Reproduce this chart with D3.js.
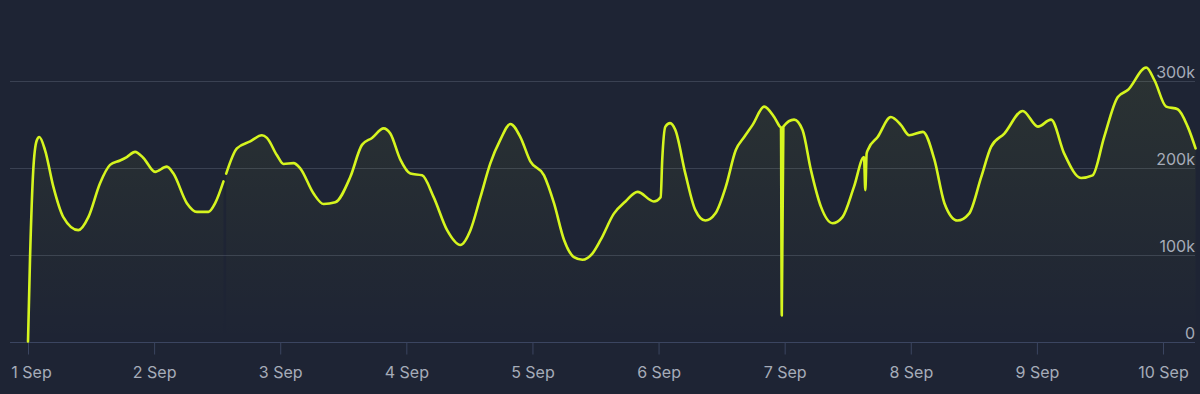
<html>
<head>
<meta charset="utf-8">
<script src="https://d3js.org/d3.v7.min.js"></script>
<style>
  body { margin: 0; background: #1e2434; }
  svg { display: block; }
</style>
</head>
<body>
<svg width="1200" height="394"></svg>
<script>
// hours since 1 Sep 00:00, value in thousands (null = gap in the series)
var hours = [0, 0.38, 1.0, 1.66, 2.15, 3.24, 4.82, 6.72, 9.58, 11.49, 13.71, 15.62, 17.52, 18.8, 20.38, 21.96,
  24.19, 26.42, 27.68, 30.23, 32.14, 34.35, 35.62, 37.2, 37.45, 37.72, 39.76, 42.29, 44.52, 45.47, 47.38,
  48.63, 50.54, 51.81, 54.35, 56.25, 58.48, 61.33, 63.56, 65.47, 67.68, 68.95, 70.86, 72.76, 75.0, 77.2,
  79.76, 82.29, 84.2, 86.1, 88.0, 89.9, 91.8, 93.7, 95.6, 98.2, 100.1, 102.0, 103.9, 105.5, 107.4, 109.0,
  111.5, 113.7, 116.0, 119.1, 120.4, 120.7, 121.3, 122.2, 123.2, 125.1, 127.0, 128.9, 130.8, 132.8, 134.7,
  136.3, 137.9, 140.1, 142.0, 143.1, 143.3, 143.45, 143.75, 145.8, 147.4, 149.0, 150.9, 153.1, 155.0,
  157.2, 159.1, 159.35, 159.6, 159.9, 161.7, 164.2, 166.1, 167.7, 170.3, 172.5, 174.4, 176.9, 179.1,
  181.4, 183.3, 185.8, 189.3, 192.2, 194.7, 197.2, 200.4, 202.6, 204.8, 207.4, 209.3, 212.8, 214.4,
  216.6, 218.8, 220.7, 222.2];
var values = [0, 94, 197, 231, 235, 220, 178, 143, 128, 143, 182, 203, 208, 212, 218, 211,
  195, 201, 193, 159, 149, 149, 159, 184, null, 193, 222, 230, 237, 234, 214,
  204, 205, 199, 170, 158, 160, 189, 226, 234, 245, 239, 209, 193, 191, 166,
  128, 111, 128, 166, 205, 232, 250, 235, 207, 191, 159, 117, 97, 94, 101, 117,
  147, 161, 172, 161, 166, 209, 247, 251, 243, 193, 151, 139, 147, 178, 220,
  235, 249, 270, 258, 247, 246, 30, 247, 255, 243, 197, 155, 136, 143,
  178, 212, 174, 216, 221, 235, 258, 249, 237, 241, 209, 159, 139, 147,
  189, 224, 239, 265, 247, 255, 216, 188, 191, 235, 281, 289, 315, 300,
  270, 267, 247, 222];
var dayTicks = ["1 Sep", "2 Sep", "3 Sep", "4 Sep", "5 Sep", "6 Sep", "7 Sep", "8 Sep", "9 Sep", "10 Sep"];
var yTicks = [0, 100, 200, 300];

var width = 1200, height = 394;
var lineColor = "#d6f51f";
var textColor = "#a6acb9";
var font = "Inter, 'Liberation Sans', sans-serif";

var t0 = Date.UTC(2023, 8, 1);
var data = hours.map((h, i) => ({date: new Date(t0 + h * 3600e3), value: values[i]}));

var x = d3.scaleUtc()
  .domain([new Date(t0), new Date(t0 + 9 * 864e5)])
  .range([28, 1163]);
var y = d3.scaleLinear()
  .domain([0, 300])
  .range([341.5, 80.5]);

var svg = d3.select("svg");
svg.append("rect").attr("width", width).attr("height", height).attr("fill", "#1e2434");

var defs = svg.append("defs");
var grad = defs.append("linearGradient")
  .attr("id", "fillgrad")
  .attr("x1", 0).attr("x2", 0).attr("y1", 0).attr("y2", 1);
grad.append("stop").attr("offset", "0%").attr("stop-color", lineColor).attr("stop-opacity", 0.07);
grad.append("stop").attr("offset", "100%").attr("stop-color", lineColor).attr("stop-opacity", 0.0);

// horizontal grid
svg.append("g").selectAll("line")
  .data(yTicks.filter(d => d > 0))
  .join("line")
  .attr("x1", 10).attr("x2", 1195)
  .attr("y1", d => Math.round(y(d)) + 0.5).attr("y2", d => Math.round(y(d)) + 0.5)
  .attr("stroke", "#3a4152").attr("stroke-width", 1);

// area + line
var area = d3.area()
  .defined(d => d.value != null)
  .x(d => x(d.date))
  .y0(y(0))
  .y1(d => y(d.value))
  .curve(d3.curveMonotoneX);
var line = d3.line()
  .defined(d => d.value != null)
  .x(d => x(d.date))
  .y(d => y(d.value))
  .curve(d3.curveMonotoneX);

svg.append("path")
  .datum(data)
  .attr("fill", "url(#fillgrad)")
  .attr("d", area);

// baseline and x axis
var xAxis = svg.append("g")
  .attr("transform", `translate(0,${Math.round(y(0)) + 0.5})`)
  .call(d3.axisBottom(x)
    .ticks(d3.utcDay.every(1))
    .tickSize(12)
    .tickPadding(12)
    .tickFormat((d, i) => dayTicks[i]));
xAxis.select(".domain").remove();
xAxis.insert("line", ":first-child")
  .attr("x1", 10).attr("x2", 1195)
  .attr("stroke", "#3b4560");
xAxis.selectAll(".tick line").attr("stroke", "#3b4560");
xAxis.selectAll(".tick text")
  .attr("fill", textColor)
  .attr("font-family", font)
  .attr("font-size", "16px");
// first label is kept inside the plot edge
xAxis.select(".tick:first-of-type text").attr("dx", 3);

svg.append("path")
  .datum(data)
  .attr("fill", "none")
  .attr("stroke", lineColor)
  .attr("stroke-width", 2.6)
  .attr("stroke-linejoin", "round")
  .attr("stroke-linecap", "round")
  .attr("d", line);

// right-side y labels
svg.append("g").selectAll("text")
  .data(yTicks)
  .join("text")
  .attr("x", 1195)
  .attr("y", d => y(d) - 3)
  .attr("text-anchor", "end")
  .attr("fill", textColor)
  .attr("font-family", font)
  .attr("font-size", "16px")
  .text(d => d === 0 ? "0" : d + "k");
</script>
</body>
</html>
